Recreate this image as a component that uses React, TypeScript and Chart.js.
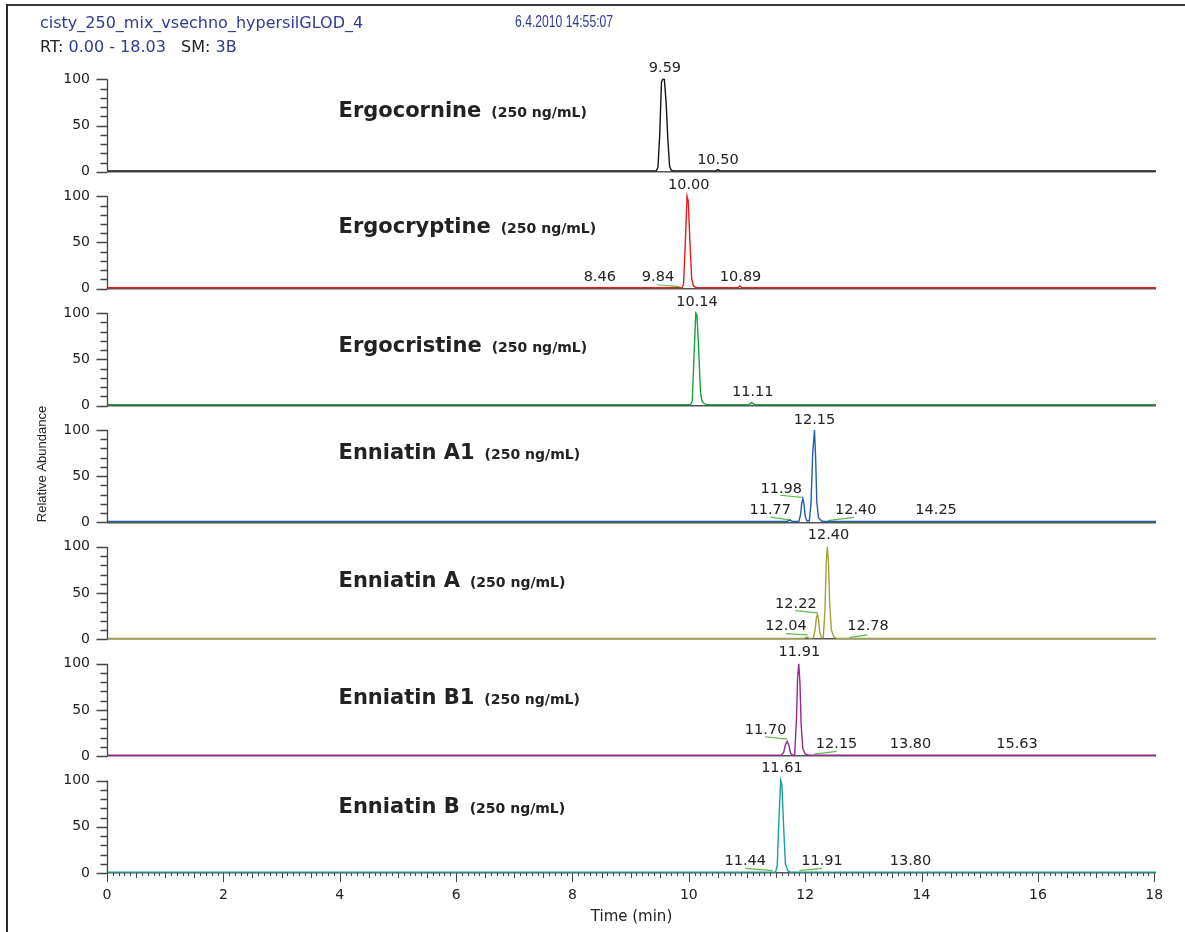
import React, { useEffect, useRef } from 'react';
import { Chart, registerables } from 'chart.js';

Chart.register(...registerables);

// ---------------- data ----------------
const PANEL_NAMES = ['Ergocornine', 'Ergocryptine', 'Ergocristine', 'Enniatin A1', 'Enniatin A', 'Enniatin B1', 'Enniatin B'];
const CONCENTRATION = '(250 ng/mL)';
const TRACE_COLORS = ['#151515', '#e0201b', '#14a53a', '#1f5fae', '#a2a134', '#93288e', '#17a097'];

const TIME_MIN = 0;
const TIME_MAX = 18.03;
const X_TICKS = [0, 2, 4, 6, 8, 10, 12, 14, 16, 18];
const Y_TICKS = [0, 50, 100];
const Y_TOP = 126.4; // headroom above 100 % in each panel

// traces: [time (min), relative abundance]
const ERGOCORNINE: [number, number][] = [[0, 1], [9.44, 1], [9.47, 5], [9.5, 40], [9.53, 97], [9.55, 100], [9.58, 100], [9.61, 75], [9.64, 35], [9.67, 6], [9.7, 1.5], [9.75, 1], [10.46, 1], [10.5, 2.5], [10.54, 1], [18.03, 1]];
const ERGOCRYPTINE: [number, number][] = [[0, 1], [9.88, 1], [9.91, 5], [9.94, 50], [9.97, 100], [9.99, 95], [10.02, 50], [10.05, 10], [10.08, 3], [10.13, 1], [10.84, 1], [10.88, 3], [10.92, 1], [18.03, 1]];
const ERGOCRISTINE: [number, number][] = [[0, 1], [10.03, 1], [10.06, 5], [10.09, 55], [10.12, 100], [10.14, 98], [10.17, 60], [10.2, 15], [10.23, 4], [10.28, 1.5], [10.32, 1], [11.03, 1], [11.08, 3.5], [11.13, 1], [18.03, 1]];
const ENNIATIN_A1: [number, number][] = [[0, 1], [11.69, 1], [11.74, 2.5], [11.78, 1], [11.89, 1], [11.92, 8], [11.94, 20], [11.96, 26], [11.98, 20], [12.0, 7], [12.03, 1.5], [12.07, 1.5], [12.1, 20], [12.13, 75], [12.16, 100], [12.18, 70], [12.2, 22], [12.23, 5], [12.28, 1.5], [12.33, 1], [18.03, 1]];
const ENNIATIN_A: [number, number][] = [[0, 1], [11.98, 1], [12.03, 2.5], [12.07, 1], [12.14, 1.5], [12.17, 10], [12.19, 22], [12.21, 27], [12.23, 22], [12.25, 8], [12.28, 1.5], [12.31, 1.5], [12.34, 30], [12.36, 80], [12.38, 100], [12.4, 85], [12.42, 40], [12.45, 10], [12.49, 3], [12.54, 1], [18.03, 1]];
const ENNIATIN_B1: [number, number][] = [[0, 1], [11.59, 1], [11.63, 4], [11.66, 12], [11.69, 16], [11.72, 12], [11.75, 3], [11.79, 1], [11.82, 1.5], [11.85, 40], [11.87, 85], [11.89, 100], [11.91, 80], [11.93, 35], [11.96, 8], [12.0, 2.5], [12.06, 1], [18.03, 1]];
const ENNIATIN_B: [number, number][] = [[0, 1], [11.49, 1], [11.52, 8], [11.55, 60], [11.58, 100], [11.6, 95], [11.63, 50], [11.66, 10], [11.7, 2.5], [11.75, 1], [18.03, 1]];
const TRACES = [ERGOCORNINE, ERGOCRYPTINE, ERGOCRISTINE, ENNIATIN_A1, ENNIATIN_A, ENNIATIN_B1, ENNIATIN_B];

// peak labels: [text, time anchor, abundance anchor]
const LABELS_1: [string, number, number][] = [['9.59', 9.59, 108], ['10.50', 10.5, 8.7]];
const LABELS_2: [string, number, number][] = [['10.00', 10.0, 108], ['8.46', 8.47, 8], ['9.84', 9.47, 8], ['10.89', 10.89, 8]];
const LABELS_3: [string, number, number][] = [['10.14', 10.14, 107.5], ['11.11', 11.1, 10]];
const LABELS_4: [string, number, number][] = [['12.15', 12.16, 107], ['11.98', 11.59, 32], ['11.77', 11.4, 9.4], ['12.40', 12.87, 9.4], ['14.25', 14.25, 9.4]];
const LABELS_5: [string, number, number][] = [['12.40', 12.4, 109], ['12.22', 11.84, 34], ['12.04', 11.67, 10], ['12.78', 13.08, 10]];
const LABELS_6: [string, number, number][] = [['11.91', 11.9, 108.5], ['11.70', 11.32, 24], ['12.15', 12.54, 8.4], ['13.80', 13.81, 8.4], ['15.63', 15.64, 8.4]];
const LABELS_7: [string, number, number][] = [['11.61', 11.6, 109], ['11.44', 10.97, 8.6], ['11.91', 12.29, 8.6], ['13.80', 13.81, 8.6]];
const PEAK_LABELS = [LABELS_1, LABELS_2, LABELS_3, LABELS_4, LABELS_5, LABELS_6, LABELS_7];

// green integration leader marks: [[t1, v1], [t2, v2]]
const MARKS_2 = [[[9.45, 4.3], [9.84, 2.2]]];
const MARKS_4 = [[[11.57, 29.4], [11.94, 27.2]], [[11.4, 5.7], [11.75, 2.5]], [[12.39, 2], [12.84, 5.4]]];
const MARKS_5 = [[[11.83, 31], [12.21, 28.6]], [[11.67, 6.2], [12.04, 4.7]], [[12.76, 1.8], [13.07, 4.7]]];
const MARKS_6 = [[[11.31, 21], [11.69, 18.5]], [[12.16, 2.2], [12.54, 5.1]]];
const MARKS_7 = [[[10.97, 5], [11.44, 2.5]], [[11.9, 2.5], [12.29, 5]]];
const MARKS = [[], MARKS_2, [], MARKS_4, MARKS_5, MARKS_6, MARKS_7];

// compound title anchors: [time, abundance]
const TITLE_TIME = 3.98;
const TITLE_LEVELS = [59.5, 59.8, 58, 68.8, 56.5, 56.5, 64.5];

// ---------------- styling ----------------
const FONT = '"DejaVu Sans", "Liberation Sans", sans-serif';
const TEXT_COLOR = '#222';
const AXIS_COLOR = '#444';
const MARK_COLOR = '#5dbb4c';
const HEADER_BLUE = '#2e3a94';

const decorPlugin = {
  id: 'chromDecor',
  afterDatasetsDraw(chart: any) {
    const ctx = chart.ctx as CanvasRenderingContext2D;
    const xs = chart.scales.x;
    const area = chart.chartArea;
    ctx.save();
    PANEL_NAMES.forEach((name, i) => {
      const ys = chart.scales['y' + i];
      // y axis line and ticks (0..100, every 10)
      ctx.strokeStyle = AXIS_COLOR;
      ctx.lineWidth = 1.3;
      ctx.beginPath();
      const left = Math.round(area.left) + 0.5;
      ctx.moveTo(left, ys.getPixelForValue(0));
      ctx.lineTo(left, ys.getPixelForValue(100));
      for (let v = 0; v <= 100; v += 10) {
        const y = Math.round(ys.getPixelForValue(v)) + 0.5;
        const len = v % 50 === 0 ? 11 : 7;
        ctx.moveTo(left - len, y);
        ctx.lineTo(left, y);
      }
      ctx.stroke();

      // peak labels
      ctx.fillStyle = TEXT_COLOR;
      ctx.font = '14.5px ' + FONT;
      ctx.textAlign = 'center';
      ctx.textBaseline = 'alphabetic';
      PEAK_LABELS[i].forEach(([text, t, v]) => {
        ctx.fillText(text, xs.getPixelForValue(t), ys.getPixelForValue(v));
      });

      // compound title
      const tx = xs.getPixelForValue(TITLE_TIME);
      const ty = ys.getPixelForValue(TITLE_LEVELS[i]);
      ctx.textAlign = 'left';
      ctx.font = 'bold 21px ' + FONT;
      ctx.fillText(name, tx, ty);
      const w = ctx.measureText(name).width;
      ctx.font = 'bold 14px ' + FONT;
      ctx.fillText(CONCENTRATION, tx + w + 10, ty);
    });

    // x axis ticks: minor 0.1, medium 0.5, major 2
    ctx.strokeStyle = AXIS_COLOR;
    ctx.lineWidth = 1;
    ctx.beginPath();
    const bottom = area.bottom;
    for (let k = 0; k <= 180; k++) {
      const x = Math.round(xs.getPixelForValue(k / 10)) + 0.5;
      const len = k % 20 === 0 ? 9 : k % 5 === 0 ? 5 : 3;
      ctx.moveTo(x, bottom);
      ctx.lineTo(x, bottom + len);
    }
    ctx.stroke();
    ctx.restore();
  },
};

export default function App() {
  const canvasRef = useRef<HTMLCanvasElement | null>(null);

  useEffect(() => {
    const canvas = canvasRef.current;
    if (!canvas) return;

    const datasets: any[] = [];
    TRACES.forEach((trace, i) => {
      datasets.push({
        label: PANEL_NAMES[i],
        data: trace.map(([x, y]) => ({ x, y })),
        yAxisID: 'y' + i,
        borderColor: TRACE_COLORS[i],
        borderWidth: 1.4,
        pointRadius: 0,
        tension: 0,
        fill: false,
      });
      MARKS[i].forEach((seg: any) => {
        datasets.push({
          label: PANEL_NAMES[i] + ' mark',
          data: seg.map(([x, y]: number[]) => ({ x, y })),
          yAxisID: 'y' + i,
          borderColor: MARK_COLOR,
          borderWidth: 1.2,
          pointRadius: 0,
          fill: false,
        });
      });
    });

    const scales: any = {
      x: {
        type: 'linear',
        position: 'bottom',
        min: TIME_MIN,
        max: TIME_MAX,
        afterBuildTicks: (s: any) => {
          s.ticks = X_TICKS.map((v) => ({ value: v }));
        },
        afterFit: (s: any) => {
          s.height = 59;
        },
        ticks: { autoSkip: false, maxRotation: 0, padding: 6, color: TEXT_COLOR, font: { family: FONT, size: 14 } },
        grid: { display: false },
        border: { display: false },
        title: {
          display: true,
          text: 'Time (min)',
          color: TEXT_COLOR,
          font: { family: FONT, size: 15 },
          padding: { top: 0, bottom: 6 },
        },
      },
    };
    PANEL_NAMES.forEach((_, i) => {
      scales['y' + i] = {
        type: 'linear',
        position: 'left',
        stack: 'panels',
        stackWeight: 1,
        weight: PANEL_NAMES.length - i,
        min: 0,
        max: Y_TOP,
        afterBuildTicks: (s: any) => {
          s.ticks = Y_TICKS.map((v) => ({ value: v }));
        },
        afterFit: (s: any) => {
          s.width = 107;
        },
        ticks: { autoSkip: false, padding: 17, color: TEXT_COLOR, font: { family: FONT, size: 14 } },
        grid: {
          drawTicks: false,
          drawOnChartArea: true,
          lineWidth: 1.6,
          color: (c: any) => (c.tick && c.tick.value === 0 ? '#555' : 'rgba(0,0,0,0)'),
        },
        border: { display: false },
        title:
          i === 3
            ? {
                display: true,
                text: 'Relative Abundance',
                color: TEXT_COLOR,
                font: { family: '"Liberation Sans", sans-serif', size: 13 },
                padding: { top: 35, bottom: 0 },
              }
            : { display: false },
      };
    });

    const chart = new Chart(canvas, {
      type: 'line',
      data: { datasets },
      options: {
        responsive: false,
        animation: false,
        devicePixelRatio: 1,
        layout: { padding: { left: 0, right: 29, top: 55, bottom: 0 } },
        plugins: { legend: { display: false }, tooltip: { enabled: false } },
        scales,
      },
      plugins: [decorPlugin],
    });
    return () => chart.destroy();
  }, []);

  const headerFont = '16px "DejaVu Sans", sans-serif';
  return (
    <div style={{ position: 'absolute', left: 0, top: 0, width: 1185, height: 932, background: '#fff', overflow: 'hidden' }}>
      <canvas ref={canvasRef} width={1185} height={932} style={{ position: 'absolute', left: 0, top: 0 }} />
      <div style={{ position: 'absolute', left: 6, top: 4, right: 0, height: 2, background: '#3a3a3a' }} />
      <div style={{ position: 'absolute', left: 6, top: 4, width: 2, bottom: 0, background: '#2a2a2a' }} />
      <div style={{ position: 'absolute', left: 40, top: 14.5, font: headerFont, lineHeight: '16px', color: HEADER_BLUE, whiteSpace: 'pre' }}>
        cisty_250_mix_vsechno_hypersilGLOD_4
      </div>
      <div
        style={{
          position: 'absolute',
          left: 515,
          top: 14,
          font: '16px "Liberation Sans", sans-serif',
          lineHeight: '16px',
          color: HEADER_BLUE,
          whiteSpace: 'pre',
          transform: 'scaleX(0.76)',
          transformOrigin: 'left top',
        }}
      >
        6.4.2010 14:55:07
      </div>
      <div style={{ position: 'absolute', left: 40, top: 38.5, font: headerFont, lineHeight: '16px', whiteSpace: 'pre' }}>
        <span style={{ color: '#222' }}>RT: </span>
        <span style={{ color: HEADER_BLUE }}>0.00 - 18.03</span>
        <span style={{ color: '#222' }}>{'   SM: '}</span>
        <span style={{ color: HEADER_BLUE }}>3B</span>
      </div>
    </div>
  );
}
